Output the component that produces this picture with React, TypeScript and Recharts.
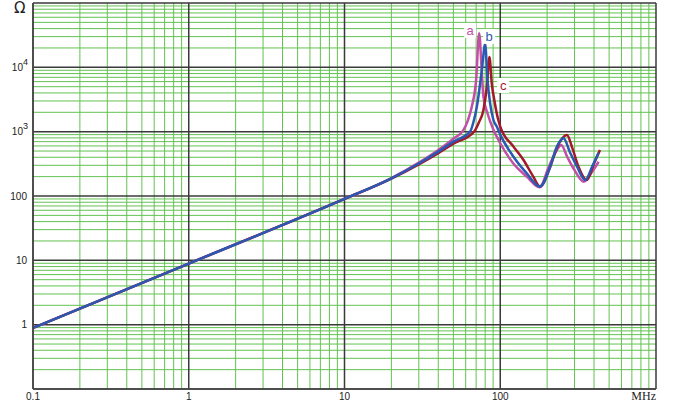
import React from 'react';
import { LineChart, Line, XAxis, YAxis, ReferenceLine, ReferenceDot } from 'recharts';

// impedance curves, frequency in MHz, |Z| in ohm
const freqA = [0.1, 1, 10, 20, 30, 40, 50, 58, 62, 65.7, 70, 73.2, 76, 78, 83, 90, 100, 121, 148, 179, 205, 231, 246, 270, 295, 343, 390, 428];
const zA = [0.89, 8.9, 90, 190, 330, 520, 780, 1060, 1500, 2460, 6400, 34000, 9000, 3500, 1900, 1100, 660, 323, 200, 137, 285, 520, 620, 400, 270, 167, 240, 341];

const freqB = [0.1, 1, 10, 20, 30, 40, 50, 64, 67.5, 70.8, 76.2, 80, 82.8, 86, 90.4, 95, 100, 121.6, 148, 180, 209, 231, 255, 280, 311, 351, 390, 428];
const zB = [0.89, 8.9, 90, 188, 320, 490, 700, 1000, 1450, 2460, 9100, 23000, 6380, 2800, 1520, 1200, 900, 408, 225, 140, 285, 585, 790, 480, 285, 177, 290, 470];

const freqC = [0.1, 1, 10, 20, 30, 40, 50, 68, 73, 78, 82, 85.2, 88.3, 91.8, 96.6, 100, 121.6, 141, 163, 180, 209, 231, 268, 290, 318, 359, 400, 437];
const zC = [0.89, 8.9, 90, 186, 310, 465, 650, 1000, 1400, 2180, 5000, 14500, 5500, 3000, 1600, 1200, 585, 363, 200, 140, 280, 560, 890, 560, 285, 177, 320, 518];

const curveNames = ['a', 'b', 'c'];
const curveColors = ['#c24fa6', '#2a58b2', '#a3182a'];
const labelFreq = [64.1, 84.9, 104.5];
const labelZ = [36800, 29700, 5140];

const xTicks = [0.1, 1, 10, 100, 1000];
const yTicks = [1, 10, 100, 1000, 10000];
const xDecades = [0.1, 1, 10, 100, 1000];
const yDecades = [0.1, 1, 10, 100, 1000, 10000, 100000];
const minorSteps = [2, 3, 4, 5, 6, 7, 8, 9];

const toRows = (f: number[], z: number[]) => f.map((v, i) => ({ f: v, z: z[i] }));
const seriesData = [toRows(freqA, zA), toRows(freqB, zB), toRows(freqC, zC)];

const minorOf = (decades: number[]) =>
  decades.slice(0, -1).flatMap((d) => minorSteps.map((s) => +(d * s).toPrecision(3)));

const tickFont = '"Liberation Sans", Arial, sans-serif';

function XTick(props: any) {
  const { x, payload } = props;
  if (payload.value >= 1000) return <g />;
  return (
    <text x={x} y={400} textAnchor="middle" fontSize={10} fontFamily={tickFont} fill="#222">
      {payload.value}
    </text>
  );
}

function YTick(props: any) {
  const { y, payload } = props;
  const v = payload.value;
  if (v >= 1000) {
    const exp = Math.round(Math.log10(v));
    return (
      <text x={28} y={y + 3.5} textAnchor="end" fontSize={10} fontFamily={tickFont} fill="#222">
        10<tspan dy={-6} fontSize={9}>{exp}</tspan>
      </text>
    );
  }
  return (
    <text x={27} y={y + 3.5} textAnchor="end" fontSize={10} fontFamily={tickFont} fill="#222">
      {v}
    </text>
  );
}

function CurveTag(props: any) {
  const { cx, cy, text, color } = props;
  return (
    <g>
      <rect x={cx - 6} y={cy - 8} width={12} height={15} fill="#fff" />
      <text x={cx} y={cy + 4} textAnchor="middle" fontSize={13} fontFamily={tickFont} fill={color}>
        {text}
      </text>
    </g>
  );
}

export default function App() {
  const minorX = minorOf(xDecades);
  const minorY = minorOf(yDecades);
  // draw order: a, c, b (blue on top)
  const order = [0, 2, 1];
  return (
    <div style={{ position: 'absolute', left: 0, top: 0, width: 674, height: 408, background: '#fff' }}>
      <LineChart width={674} height={408} margin={{ top: 3, right: 18, bottom: 0, left: 0 }}>
        <XAxis
          type="number"
          dataKey="f"
          scale="log"
          domain={[0.1, 1000]}
          ticks={xTicks}
          allowDataOverflow
          height={19}
          tickLine={false}
          axisLine={{ stroke: '#444', strokeWidth: 1.5 }}
          tick={<XTick />}
          interval={0}
        />
        <YAxis
          type="number"
          dataKey="z"
          scale="log"
          domain={[0.1, 100000]}
          ticks={yTicks}
          allowDataOverflow
          width={33}
          tickLine={false}
          axisLine={{ stroke: '#444', strokeWidth: 1.5 }}
          tick={<YTick />}
          interval={0}
        />
        {minorX.map((v) => (
          <ReferenceLine key={'mx' + v} x={v} stroke="#62c250" strokeWidth={1} />
        ))}
        {minorY.map((v) => (
          <ReferenceLine key={'my' + v} y={v} stroke="#62c250" strokeWidth={1} />
        ))}
        {xDecades.map((v) => (
          <ReferenceLine key={'Mx' + v} x={v} stroke="#3a3a3a" strokeWidth={1.5} />
        ))}
        {yDecades.map((v) => (
          <ReferenceLine key={'My' + v} y={v} stroke="#3a3a3a" strokeWidth={1.5} />
        ))}
        {order.map((i) => (
          <Line
            key={curveNames[i]}
            data={seriesData[i]}
            dataKey="z"
            type="monotone"
            stroke={curveColors[i]}
            strokeWidth={2.5}
            dot={false}
            isAnimationActive={false}
          />
        ))}
        {curveNames.map((n, i) => (
          <ReferenceDot
            key={'tag' + n}
            x={labelFreq[i]}
            y={labelZ[i]}
            r={6}
            shape={(p: any) => <CurveTag {...p} text={n} color={curveColors[i]} />}
          />
        ))}
      </LineChart>
      <div
        style={{
          position: 'absolute',
          left: 14,
          top: 0,
          lineHeight: '16px',
          fontFamily: '"DejaVu Sans", sans-serif',
          fontSize: 15,
          color: '#222',
        }}
      >
        Ω
      </div>
      <div
        style={{
          position: 'absolute',
          right: 18,
          top: 389,
          lineHeight: '14px',
          fontFamily: '"Liberation Serif", serif',
          fontSize: 12,
          color: '#222',
        }}
      >
        MHz
      </div>
    </div>
  );
}
